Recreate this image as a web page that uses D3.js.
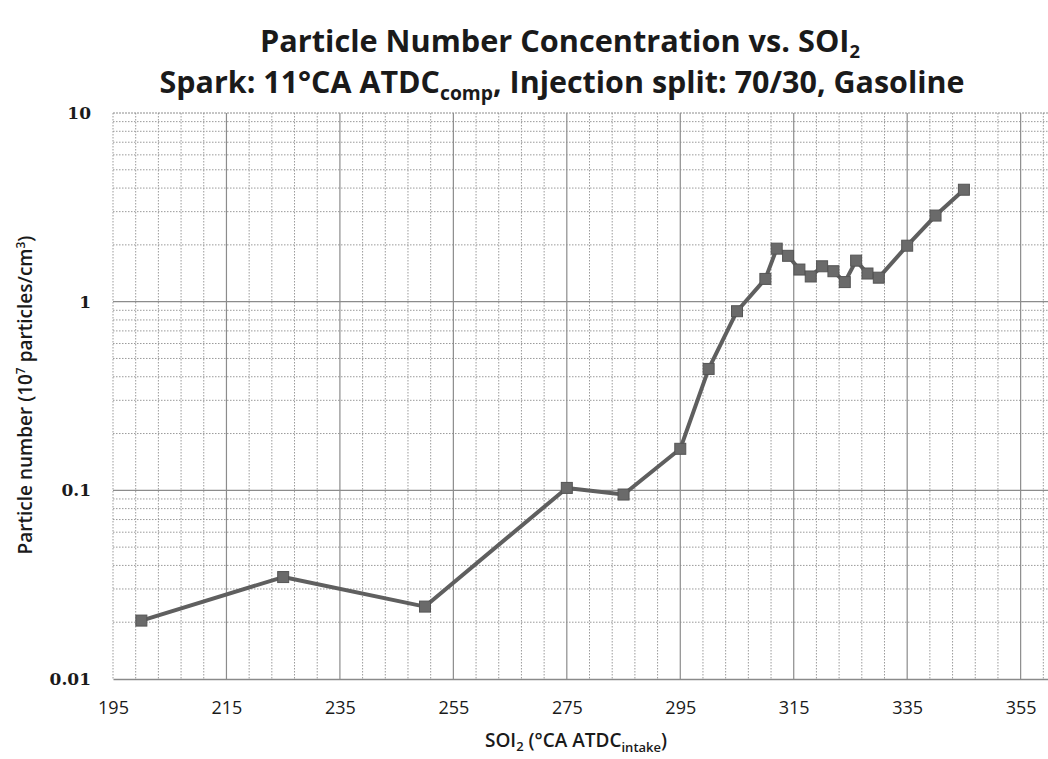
<!DOCTYPE html>
<html>
<head>
<meta charset="utf-8">
<script src="https://cdn.jsdelivr.net/npm/d3@7"></script>
<style>
    body { margin: 0; background: #fff; overflow: hidden; }
    svg text { fill: #1a1a1a; }
</style>
</head>
<body>
<div id="chart"></div>
<script>
// SOI2 timing (deg CA ATDC intake) and particle number (1e7 particles/cm3)
const soi = [200, 225, 250, 275, 285, 295, 300, 305, 310, 312, 314, 316, 318, 320, 322, 324, 326, 328, 330, 335, 340, 345];
const particleNumber = [0.0204, 0.0347, 0.0242, 0.103, 0.095, 0.166, 0.44, 0.89, 1.32, 1.91, 1.75, 1.48, 1.36, 1.54, 1.45, 1.27, 1.65, 1.41, 1.34, 1.98, 2.86, 3.92];
const xTicks = [195, 215, 235, 255, 275, 295, 315, 335, 355];
const yTicks = [0.01, 0.1, 1, 10];
const yTickLabels = ["0.01", "0.1", "1", "10"];

const width = 1048,
    height = 759,
    margin = { top: 113, right: -1, bottom: 80, left: 113 };

const svg = d3.select("#chart")
    .append("svg")
    .attr("width", width)
    .attr("height", height);

const x = d3.scaleLinear()
    .domain([195, 360])
    .range([margin.left, width - margin.right]);

const y = d3.scaleLog()
    .domain([0.01, 10])
    .range([height - margin.bottom, margin.top]);

// minor grid (dotted)
const xMinor = d3.range(199, 361, 4).filter(v => (v - 195) % 20 !== 0);
const yMinor = [];
[0.01, 0.1, 1].forEach(d => { for (let k = 2; k <= 9; k++) yMinor.push(d * k); });

const grid = svg.append("g");
grid.selectAll(".vminor")
    .data(xMinor)
    .enter()
    .append("line")
    .attr("x1", d => x(d)).attr("x2", d => x(d))
    .attr("y1", y(10)).attr("y2", y(0.01))
    .attr("stroke", "#9a9a9a")
    .attr("stroke-width", 1)
    .attr("stroke-dasharray", "1.5,1.5");

grid.selectAll(".hminor")
    .data(yMinor)
    .enter()
    .append("line")
    .attr("x1", x(195)).attr("x2", x(360))
    .attr("y1", d => y(d)).attr("y2", d => y(d))
    .attr("stroke", "#9a9a9a")
    .attr("stroke-width", 1)
    .attr("stroke-dasharray", "1.5,1.5");

// major grid
grid.selectAll(".vmajor")
    .data(xTicks.slice(1))
    .enter()
    .append("line")
    .attr("x1", d => x(d)).attr("x2", d => x(d))
    .attr("y1", y(10)).attr("y2", y(0.01))
    .attr("stroke", "#8c8c8c")
    .attr("stroke-width", 1.2);

grid.selectAll(".hmajor")
    .data([0.1, 1])
    .enter()
    .append("line")
    .attr("x1", x(195)).attr("x2", x(360))
    .attr("y1", d => y(d)).attr("y2", d => y(d))
    .attr("stroke", "#8c8c8c")
    .attr("stroke-width", 1.2);

// frame
grid.append("line")
    .attr("x1", x(195)).attr("x2", x(195))
    .attr("y1", y(10)).attr("y2", y(0.01))
    .attr("stroke", "#9a9a9a")
    .attr("stroke-dasharray", "1.5,1.5");
grid.append("line")
    .attr("x1", x(195)).attr("x2", x(360))
    .attr("y1", y(10)).attr("y2", y(10))
    .attr("stroke", "#8c8c8c")
    .attr("stroke-dasharray", "2,1");

// x axis
const xAxis = svg.append("g")
    .attr("transform", `translate(0,${y(0.01)})`)
    .call(d3.axisBottom(x).tickValues(xTicks).tickSize(0).tickPadding(22).tickFormat(d3.format("d")));
xAxis.select(".domain").attr("stroke", "#8a8a8a").attr("stroke-width", 1.5);
xAxis.selectAll("text")
    .attr("font-family", "'Open Sans', sans-serif")
    .attr("font-size", 18)
    .attr("fill", "#1a1a1a");

// y axis
const yAxis = svg.append("g")
    .attr("transform", `translate(${x(195)},0)`)
    .call(d3.axisLeft(y).tickValues(yTicks).tickSize(0).tickPadding(22)
        .tickFormat((d, i) => yTickLabels[i]));
yAxis.select(".domain").remove();
yAxis.selectAll("text")
    .attr("font-family", "'DejaVu Serif', serif")
    .attr("font-weight", "bold")
    .attr("font-size", 17)
    .attr("fill", "#1a1a1a");

// data line + markers
const line = d3.line()
    .x((d, i) => x(soi[i]))
    .y(d => y(d));

svg.append("path")
    .datum(particleNumber)
    .attr("d", line)
    .attr("fill", "none")
    .attr("stroke", "#5f5f5f")
    .attr("stroke-width", 4)
    .attr("stroke-linejoin", "round");

svg.selectAll(".marker")
    .data(particleNumber)
    .enter()
    .append("rect")
    .attr("x", (d, i) => x(soi[i]) - 5.5)
    .attr("y", d => y(d) - 5.5)
    .attr("width", 11)
    .attr("height", 11)
    .attr("fill", "#6a6a6a")
    .attr("stroke", "#555")
    .attr("stroke-width", 1);

// titles
const title1 = svg.append("text")
    .attr("x", 560)
    .attr("y", 52)
    .attr("text-anchor", "middle")
    .attr("font-family", "'Open Sans', sans-serif")
    .attr("font-weight", "bold")
    .attr("font-size", 30)
    .attr("textLength", 600)
    .attr("lengthAdjust", "spacingAndGlyphs");
title1.append("tspan").text("Particle Number Concentration vs. SOI");
title1.append("tspan").attr("font-size", 18).attr("dy", 6).text("2");

const title2 = svg.append("text")
    .attr("x", 562)
    .attr("y", 93)
    .attr("text-anchor", "middle")
    .attr("font-family", "'Open Sans', sans-serif")
    .attr("font-weight", "bold")
    .attr("font-size", 30)
    .attr("textLength", 805)
    .attr("lengthAdjust", "spacingAndGlyphs");
title2.append("tspan").text("Spark: 11°CA ATDC");
title2.append("tspan").attr("font-size", 19).attr("dy", 7).text("comp");
title2.append("tspan").attr("dy", -7).text(", Injection split: 70/30, Gasoline");

// axis titles
const xTitle = svg.append("text")
    .attr("x", 576)
    .attr("y", 747)
    .attr("text-anchor", "middle")
    .attr("font-family", "'Open Sans', sans-serif")
    .attr("font-weight", 600)
    .attr("font-size", 19);
xTitle.append("tspan").text("SOI");
xTitle.append("tspan").attr("font-size", 13).attr("dy", 4).text("2");
xTitle.append("tspan").attr("dy", -4).text(" (°CA ATDC");
xTitle.append("tspan").attr("font-size", 13).attr("dy", 5).text("intake");
xTitle.append("tspan").attr("dy", -5).text(")");

const yTitle = svg.append("text")
    .attr("transform", "translate(32,395) rotate(-90)")
    .attr("text-anchor", "middle")
    .attr("font-family", "'Open Sans', sans-serif")
    .attr("font-weight", 600)
    .attr("font-size", 19);
yTitle.append("tspan").text("Particle number (10");
yTitle.append("tspan").attr("font-size", 12).attr("dy", -7).text("7");
yTitle.append("tspan").attr("dy", 7).text(" particles/cm");
yTitle.append("tspan").attr("font-size", 12).attr("dy", -7).text("3");
yTitle.append("tspan").attr("dy", 7).text(")");
</script>
</body>
</html>
